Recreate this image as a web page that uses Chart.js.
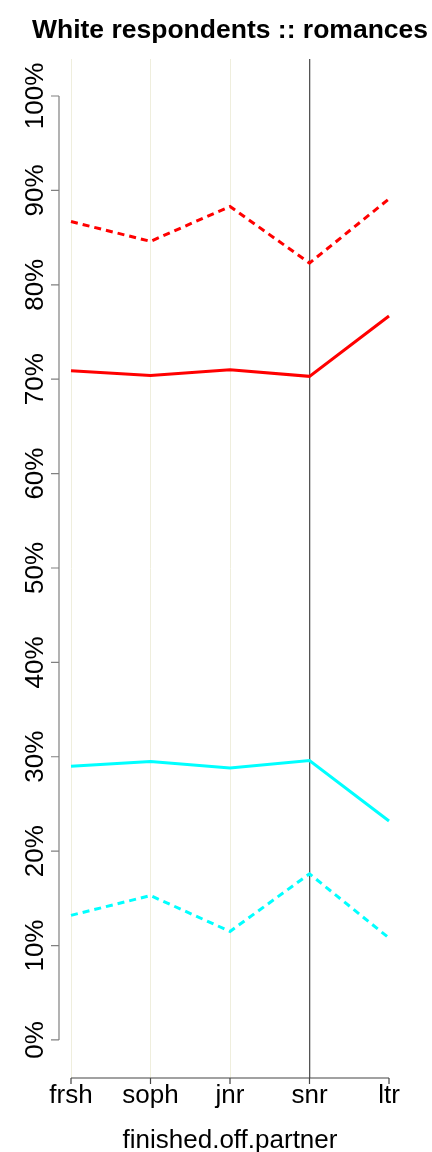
<!DOCTYPE html>
<html>
<head>
<meta charset="utf-8">
<script src="https://cdn.jsdelivr.net/npm/chart.js@4"></script>
<style>
  html, body { margin: 0; padding: 0; background: #fff; }
  #wrap { width: 432px; height: 1152px; }
</style>
</head>
<body>
<div id="wrap"><canvas id="chart" width="432" height="1152"></canvas></div>
<script>
const categories = ["frsh", "soph", "jnr", "snr", "ltr"];
const yTickValues = [0, 10, 20, 30, 40, 50, 60, 70, 80, 90, 100];

const redSolid = [70.9, 70.4, 71.0, 70.3, 76.7];
const redDashed = [86.7, 84.6, 88.3, 82.3, 89.1];
const cyanSolid = [29.0, 29.5, 28.8, 29.6, 23.2];
const cyanDashed = [13.2, 15.3, 11.5, 17.6, 10.8];

const titleText = "White respondents :: romances";
const xTitle = "finished.off.partner";
const FONT = "'Liberation Sans', Arial, Helvetica, sans-serif";

// axes, labels and title drawn R-style, off the real scales
const basePlot = {
  id: "basePlot",
  afterDraw(chart) {
    const ctx = chart.ctx;
    const xs = chart.scales.x, ys = chart.scales.y;
    const area = chart.chartArea;
    ctx.save();

    // y axis
    const axX = area.left - 12;
    ctx.strokeStyle = "#808080";
    ctx.lineWidth = 1.2;
    ctx.beginPath();
    ctx.moveTo(axX, ys.getPixelForValue(yTickValues[0]));
    ctx.lineTo(axX, ys.getPixelForValue(yTickValues[yTickValues.length - 1]));
    yTickValues.forEach(v => {
      const py = ys.getPixelForValue(v);
      ctx.moveTo(axX, py);
      ctx.lineTo(axX - 8, py);
    });
    ctx.stroke();

    ctx.fillStyle = "#000";
    ctx.font = "26px " + FONT;
    ctx.textAlign = "center";
    ctx.textBaseline = "alphabetic";
    yTickValues.forEach(v => {
      const py = ys.getPixelForValue(v);
      ctx.save();
      ctx.translate(43, py);
      ctx.rotate(-Math.PI / 2);
      ctx.fillText(v + "%", 0, 0);
      ctx.restore();
    });

    // x axis
    const x0 = xs.getPixelForTick(0);
    const x1 = xs.getPixelForTick(categories.length - 1);
    ctx.strokeStyle = "#444";
    ctx.lineWidth = 1.2;
    ctx.beginPath();
    ctx.moveTo(x0, area.bottom);
    ctx.lineTo(x1, area.bottom);
    categories.forEach((c, i) => {
      const px = xs.getPixelForTick(i);
      ctx.moveTo(px, area.bottom);
      ctx.lineTo(px, area.bottom + 6);
    });
    ctx.stroke();

    categories.forEach((c, i) => {
      ctx.fillText(c, xs.getPixelForTick(i), 1103);
    });

    const mid = (area.left + area.right) / 2;
    ctx.fillText(xTitle, mid, 1148);

    ctx.font = "bold 26.5px " + FONT;
    ctx.fillText(titleText, mid, 38);
    ctx.restore();
  }
};

const lineSet = (label, data, color, dashed) => ({
  label: label,
  data: data,
  borderColor: color,
  backgroundColor: color,
  borderWidth: 3,
  borderDash: dashed ? [7, 5] : [],
  pointRadius: 0,
  tension: 0,
  fill: false
});

new Chart(document.getElementById("chart"), {
  type: "line",
  data: {
    labels: categories,
    datasets: [
      lineSet("red dashed", redDashed, "#ff0000", true),
      lineSet("red", redSolid, "#ff0000", false),
      lineSet("cyan", cyanSolid, "#00ffff", false),
      lineSet("cyan dashed", cyanDashed, "#00ffff", true)
    ]
  },
  options: {
    responsive: false,
    animation: false,
    layout: { padding: { top: 59, right: 43, left: 0, bottom: 0 } },
    plugins: { legend: { display: false }, tooltip: { enabled: false }, title: { display: false } },
    scales: {
      x: {
        offset: false,
        ticks: { display: false },
        border: { display: false },
        grid: {
          drawTicks: false,
          color: c => c.index === 3 ? "#555555" : (c.index === 4 ? "rgba(0,0,0,0)" : "#efeedd"),
          lineWidth: c => c.index === 3 ? 1.3 : 1
        },
        afterFit: s => { s.height = 74; }
      },
      y: {
        min: -4.03,
        max: 103.92,
        ticks: { display: false },
        border: { display: false },
        grid: { display: false },
        afterFit: s => { s.width = 71; }
      }
    }
  },
  plugins: [basePlot]
});
</script>
</body>
</html>
